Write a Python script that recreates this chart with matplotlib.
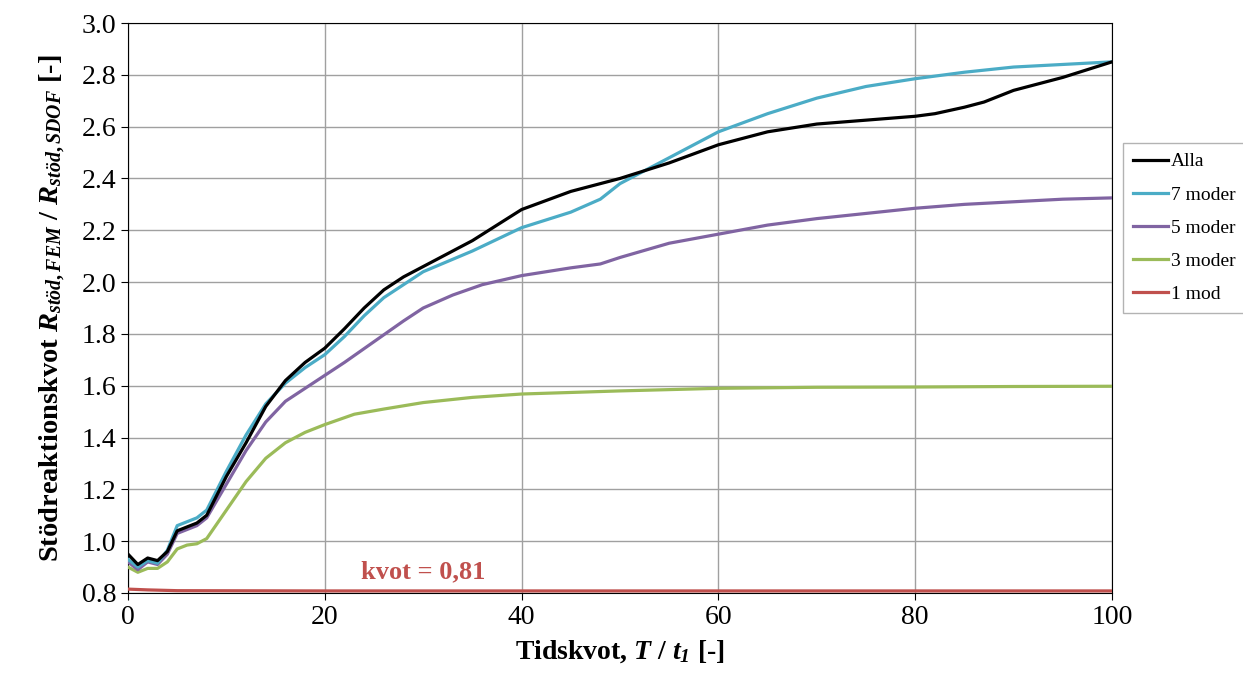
import matplotlib
matplotlib.use("Agg")
import matplotlib.pyplot as plt
import numpy as np

plt.rcParams['font.family'] = ['Liberation Serif', 'DejaVu Serif']
plt.rcParams['mathtext.fontset'] = 'custom'
plt.rcParams['mathtext.rm'] = 'Liberation Serif:bold'
plt.rcParams['mathtext.it'] = 'Liberation Serif:italic:bold'
plt.rcParams['mathtext.bf'] = 'Liberation Serif:bold'
plt.rcParams['mathtext.sf'] = 'Liberation Serif:italic:bold'

# Tidskvot och stödreaktionskvot
x_alla = [0, 1, 2, 3, 4, 5, 7, 8, 10, 12, 14, 16, 18, 20, 22, 24, 26, 28, 30, 35, 40, 45, 50,
          55, 60, 65, 70, 75, 80, 82, 85, 87, 90, 95, 100]
y_alla = [0.95, 0.91, 0.935, 0.925, 0.96, 1.04, 1.07, 1.10, 1.25, 1.38, 1.52, 1.62, 1.69, 1.745,
          1.82, 1.90, 1.97, 2.02, 2.06, 2.16, 2.28, 2.35, 2.40, 2.46, 2.53, 2.58, 2.61, 2.625,
          2.64, 2.65, 2.675, 2.695, 2.74, 2.79, 2.85]

x_7 = [0, 1, 2, 3, 4, 5, 7, 8, 10, 12, 14, 16, 18, 20, 22, 24, 26, 28, 30, 35, 40, 45, 48, 50,
       55, 60, 65, 70, 75, 80, 85, 90, 95, 100]
y_7 = [0.93, 0.90, 0.925, 0.915, 0.965, 1.06, 1.09, 1.12, 1.27, 1.41, 1.53, 1.61, 1.67, 1.72,
       1.79, 1.87, 1.94, 1.99, 2.04, 2.12, 2.21, 2.27, 2.32, 2.38, 2.48, 2.58, 2.65, 2.71, 2.755,
       2.785, 2.81, 2.83, 2.84, 2.85]

x_5 = [0, 1, 2, 3, 4, 5, 7, 8, 10, 12, 14, 16, 18, 20, 22, 25, 28, 30, 33, 36, 40, 45, 48, 50,
       55, 60, 65, 70, 75, 80, 85, 90, 95, 100]
y_5 = [0.92, 0.89, 0.92, 0.91, 0.95, 1.03, 1.06, 1.09, 1.22, 1.35, 1.46, 1.54, 1.59, 1.64, 1.69,
       1.77, 1.85, 1.90, 1.95, 1.99, 2.025, 2.055, 2.07, 2.095, 2.15, 2.185, 2.22, 2.245, 2.265,
       2.285, 2.30, 2.31, 2.32, 2.325]

x_3 = [0, 1, 2, 3, 4, 5, 6, 7, 8, 10, 12, 14, 16, 18, 20, 23, 26, 30, 35, 40, 50, 60, 70, 80,
       90, 100]
y_3 = [0.90, 0.88, 0.895, 0.895, 0.92, 0.97, 0.985, 0.99, 1.01, 1.12, 1.23, 1.32, 1.38, 1.42,
       1.45, 1.49, 1.51, 1.535, 1.555, 1.568, 1.58, 1.59, 1.594, 1.595, 1.597, 1.598]

x_1 = [0, 2, 5, 20, 50, 80, 100]
y_1 = [0.815, 0.812, 0.809, 0.808, 0.808, 0.808, 0.808]

fig = plt.figure(figsize=(12.43, 6.84), dpi=100)
ax = fig.add_axes([128/1243, 1-593/684, (1112-128)/1243, (593-23)/684])

ax.plot(x_alla, y_alla, color='black', lw=2.3, label='Alla', zorder=6)
ax.plot(x_7, y_7, color='#4BACC6', lw=2.3, label='7 moder', zorder=5)
ax.plot(x_5, y_5, color='#8064A2', lw=2.3, label='5 moder', zorder=4)
ax.plot(x_3, y_3, color='#9BBB59', lw=2.3, label='3 moder', zorder=3)
ax.plot(x_1, y_1, color='#C0504D', lw=2.3, label='1 mod', zorder=3)

ax.text(30, 0.88, 'kvot = 0,81', color='#C0504D', fontsize=19, fontweight='bold',
        ha='center', va='center')

ax.set_xlim(0, 100)
ax.set_ylim(0.8, 3.0)
ax.set_xticks(np.arange(0, 101, 20))
ax.set_yticks(np.arange(0.8, 3.01, 0.2))
ax.set_yticklabels([f'{v:.1f}' for v in np.arange(0.8, 3.01, 0.2)])
ax.tick_params(labelsize=20, direction='out', length=5)
ax.grid(True, color='#a0a0a0', lw=1)
ax.set_axisbelow(True)
for s in ax.spines.values():
    s.set_color('black')

ax.set_xlabel(r'Tidskvot, $T$ / $t_{\mathsf{1}}$ [-]', fontsize=20, fontweight='bold', labelpad=6)
ax.set_ylabel(r'Stödreaktionskvot $R_{stöd,FEM}$ / $R_{stöd,SDOF}$ [-]', fontsize=20.5,
              fontweight='bold', labelpad=10)

leg = fig.legend(loc='upper left', bbox_to_anchor=(1123/1243, 1-143/684), fontsize=14,
                 frameon=True, fancybox=False, edgecolor='#a0a0a0', handlelength=1.8,
                 handletextpad=0.15, labelspacing=0.8, borderpad=0.5, borderaxespad=0)
leg.get_frame().set_linewidth(1)

fig.savefig('out.png', dpi=100)
